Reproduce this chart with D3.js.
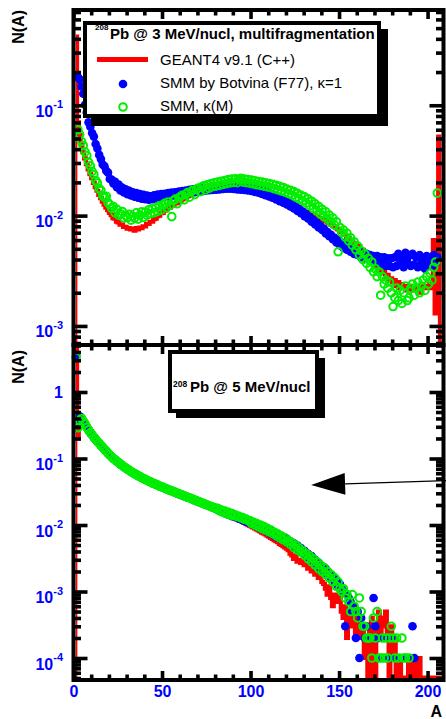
<!DOCTYPE html>
<html>
<head>
<meta charset="utf-8">
<script src="https://cdn.jsdelivr.net/npm/d3@7"></script>
<style>
  body { margin: 0; background: #fff; }
  svg { display: block; }
  text { font-family: "Liberation Sans", Arial, Helvetica, sans-serif; }
</style>
</head>
<body>
<svg id="chart" width="446" height="719"></svg>
<script>
// Fragment yields N(A), in units of 1e-4, for mass numbers A = 1 .. 207.
// null = no point; 0 = empty histogram bin.

// 208Pb @ 3 MeV/nucl
const geant3 = [
  4200, 700, 540, 440, 375, 330, 292, 262, 238, 218,
  198, 181, 168, 154, 144, 134, 126, 118, 112, 106,
  101, 95, 94, 88, 87, 83, 83, 79, 79, 76,
  77, 75, 76, 73, 77, 75, 78, 77, 80, 80,
  84, 84, 88, 88, 93, 94, 99, 100, 105, 106,
  111, 112, 117, 118, 123, 124, 129, 130, 135, 136,
  140, 143, 146, 149, 152, 155, 157, 160, 162, 164,
  166, 168, 170, 172, 173, 175, 176, 177, 178, 179,
  180, 180, 181, 181, 181, 181, 181, 180, 180, 179,
  178, 176, 177, 174, 175, 171, 172, 168, 169, 165,
  165, 161, 161, 157, 157, 153, 153, 149, 148, 145,
  144, 141, 140, 137, 136, 134, 131, 130, 127, 126,
  124, 122, 121, 119, 118, 116, 114, 113, 111, 109,
  108, 106, 104, 103, 101, 99, 98, 96, 94, 93,
  91, 89, 87, 85, 83, 81, 79, 77, 75, 72,
  71, 67, 67, 63, 63, 59, 60, 56, 56, 53,
  53, 49, 49, 45, 45, 41, 41, 38, 38, 35,
  36, 32, 33, 30, 31, 28, 29, 26, 27, 25,
  26, 23, 25, 22, 24, 22, 23, 21, 23, 21,
  22, 21, 22, 21, 23, 20, 23, 22, 23, 22,
  24, 22, 60, 13, 14, 520, 0
];
const botvina3 = [
  null, 1800, 1720, 1480, 1270, 1010, 860, 700, 640, 560,
  520, 445, 405, 355, 325, 290, 280, 255, 245, 215,
  212, 196, 203, 181, 191, 169, 180, 162, 173, 156,
  168, 152, 163, 148, 160, 145, 157, 142, 154, 141,
  152, 139, 150, 141, 153, 143, 155, 145, 157, 147,
  158, 148, 160, 150, 162, 152, 163, 154, 165, 156,
  167, 158, 169, 159, 171, 161, 173, 163, 174, 165,
  176, 166, 178, 168, 179, 170, 181, 171, 182, 172,
  183, 173, 184, 174, 185, 175, 186, 175, 186, 174,
  186, 173, 185, 172, 184, 171, 182, 169, 180, 167,
  177, 164, 174, 161, 171, 157, 167, 153, 163, 149,
  158, 145, 153, 140, 148, 135, 143, 131, 138, 126,
  132, 121, 127, 116, 121, 110, 115, 105, 109, 99,
  103, 94, 97, 88, 91, 83, 86, 78, 81, 74,
  76, 69, 71, 65, 67, 61, 63, 57, 60, 54,
  57, 51, 54, 49, 52, 47, 50, 45, 48, 44,
  47, 42, 46, 41, 45, 40, 44, 39, 43, 38,
  43, 37, 42, 36, 42, 35, 41, 35, 41, 34,
  42, 35, 45, 37, 41, 34, 46, 38, 43, 35,
  45, 36, 42, 34, 44, 37, 41, 33, 43, 36,
  41, 35, 44, 37, 42, null, null
];
const smmKappa3 = [
  null, 600, 545, 470, 432, 378, 350, 305, 282, 252,
  236, 208, 197, 176, 169, 151, 146, 150, 131, 126,
  117, 121, 106, 114, 101, 104, 109, 95, 100, 96,
  103, 91, 99, 95, 106, 93, 101, 108, 96, 107,
  101, 113, 104, 116, 106, 118, 109, 123, 112, 125,
  129, 118, 133, 124, 98, 137, 141, 128, 145, 149,
  153, 139, 157, 162, 147, 166, 170, 155, 173, 178,
  165, 182, 186, 171, 190, 177, 194, 183, 198, 185,
  201, 188, 205, 192, 208, 195, 212, 198, 214, 200,
  216, 199, 211, 218, 202, 214, 199, 212, 197, 210,
  194, 207, 191, 204, 188, 201, 185, 198, 182, 195,
  179, 192, 175, 188, 171, 184, 167, 180, 163, 174,
  158, 170, 153, 165, 147, 159, 142, 153, 136, 148,
  130, 142, 123, 135, 116, 128, 110, 121, 103, 114,
  98, 108, 93, 101, 87, 95, 82, 88, 47, 78,
  70, 74, 64, 69, 59, 63, 54, 58, 49, 53,
  44, 48, 40, 45, 37, 41, 34, 38, 31, 33,
  28, 31, 19, 28, 24, 26, 22, 25, 20, 15,
  18, 22, 17, 21, 16, 20, 23, 17, 18, 22,
  24, 19, 22, 25, 20, 23, 26, 21, 28, 24,
  30, 26, 34, 38, 160, null, null
];

// 208Pb @ 5 MeV/nucl
const geant5 = [
  80000, 2000, 3300, 3650, 3450, 3100, 2800, 2550, 2300, 2150,
  1980, 1850, 1710, 1600, 1490, 1400, 1300, 1230, 1140, 1080,
  1020, 960, 920, 870, 830, 790, 760, 720, 690, 665,
  635, 610, 590, 566, 548, 528, 512, 494, 480, 465,
  452, 438, 426, 414, 403, 392, 382, 372, 362, 353,
  344, 336, 327, 319, 312, 304, 297, 290, 283, 277,
  270, 264, 258, 252, 246, 240, 234, 229, 223, 218,
  212, 207, 202, 197, 192, 187, 182, 178, 173, 169,
  165, 160, 156, 152, 148, 144, 140, 137, 133, 129,
  125, 122, 118, 115, 111, 108, 105, 101, 98, 95,
  92, 89, 86, 83, 80, 77, 75, 72, 69, 67,
  64, 62, 59, 57, 55, 52, 50, 48, 46, 44,
  42, 37, 35, 31, 34, 28, 30, 27, 29, 25,
  26, 22, 24, 20, 21, 18, 19, 16, 17, 14,
  13, 11, 9, 12, 8, 6, 9, 8, 7, 9,
  5, 4, 6, 2, 3, 5, 4, 3, 2, 4,
  3, 2, 3, 1, 2, 0, 3, 4, 0, 0,
  3, 5, 2, 4, 3, 5, 2, 0, 3, 1,
  2, 0, 0, 1, 0, 0, 0, 0, 1, 1,
  0, 1, 1, 0, 1, 0, 0, 0, 0, 0,
  0, 0, 0, 0, 0, 0, 0
];
const botvina5 = [
  35000, 3300, 4300, 4100, 3700, 3250, 3000, 2650, 2480, 2250,
  2100, 1930, 1820, 1680, 1580, 1460, 1380, 1280, 1200, 1120,
  1070, 990, 965, 900, 875, 815, 795, 745, 725, 685,
  670, 630, 620, 585, 577, 545, 540, 510, 505, 480,
  474, 452, 448, 426, 424, 404, 402, 382, 381, 364,
  361, 346, 343, 329, 327, 314, 312, 298, 297, 284,
  283, 271, 270, 258, 257, 246, 245, 234, 233, 223,
  222, 212, 212, 203, 202, 193, 192, 184, 183, 175,
  170, 172, 159, 164, 150, 157, 143, 151, 136, 144,
  131, 138, 124, 131, 118, 125, 112, 119, 106, 113,
  101, 106, 95, 100, 89, 95, 84, 90, 79, 85,
  74, 80, 69, 75, 65, 70, 61, 66, 57, 62,
  53, 57, 49, 53, 45, 49, 41, 45, 38, 41,
  34, 37, 31, 34, 28, 30, 25, 27, 22, 24,
  20, 22, 18, 19, 16, 17, 14, 15, 12, 13,
  11, 10, 3, 9, 8, 7, 5, 6, 2, 5,
  1, 4, 3, 2, 3, 2, 0, 2, 8, 3,
  2, 2, 0, 1, 2, 1, 2, 1, 2, 0,
  1, 0, 0, 1, 0, 0, 0, 1, 0, 0,
  3, 1, 0, 0, 0, 0, 0, 0, 0, 0,
  0, 0, 0, 0, 0, 0, 0
];
const smmKappa5 = [
  33000, 2900, 3700, 4000, 3650, 3350, 2950, 2700, 2450, 2280,
  2080, 1960, 1800, 1700, 1560, 1480, 1360, 1290, 1190, 1130,
  1060, 1000, 960, 905, 870, 820, 790, 750, 720, 690,
  665, 635, 615, 590, 572, 550, 535, 515, 500, 485,
  470, 456, 444, 430, 420, 408, 398, 386, 378, 368,
  358, 350, 340, 333, 324, 318, 309, 302, 295, 288,
  281, 274, 268, 261, 255, 249, 243, 237, 231, 226,
  220, 215, 210, 205, 200, 195, 190, 186, 181, 177,
  178, 163, 168, 155, 162, 148, 155, 141, 149, 138,
  141, 134, 135, 128, 129, 122, 123, 116, 117, 106,
  111, 100, 105, 94, 100, 88, 95, 84, 89, 79,
  84, 74, 78, 69, 73, 64, 68, 60, 64, 56,
  58, 51, 54, 46, 50, 42, 45, 39, 41, 35,
  37, 31, 34, 28, 31, 25, 28, 22, 25, 20,
  23, 18, 20, 16, 18, 14, 16, 12, 14, 11,
  10, 11, 8, 9, 7, 5, 9, 6, 5, 4,
  8, 5, 3, 3, 2, 2, 2, 1, 4, 2,
  5, 1, 1, 2, 1, 2, 1, 2, 3, 2,
  1, 2, 1, 0, 2, 1, 1, 0, 1, 0,
  0, 0, 0, 0, 0, 0, 0, 0, 0, 0,
  0, 0, 0, 0, 0, 0, 0
];

const UNIT = 1e-4;
const massTicksMajor = [0, 50, 100, 150, 200];
const massTicksMinor = d3.range(0, 210, 10).filter(v => v % 50 !== 0);
const decades3 = [-3, -2, -1];
const decades5 = [-4, -3, -2, -1, 0];
const legendEntries = ["GEANT4 v9.1 (C++)", "SMM by Botvina (F77), \u03ba=1", "SMM, \u03ba(M)"];
const panelTitles = ["Pb @ 3 MeV/nucl, multifragmentation", "Pb @ 5 MeV/nucl"];
// annotation arrow, in (A, N) coordinates of the 5 MeV panel
const arrowFrom = [210.5, 0.0465];
const arrowTo = [134.2, 0.040];

const svg = d3.select("#chart");
const X0 = 73.5, X1 = 443.5;
const x = d3.scaleLinear().domain([0, 209]).range([X0, X1]);
const BLUE = "#0000ff", RED = "#ff0000", GREEN = "#00ee00";

const panels = [
  { top: 10, bottom: 345, dom: [6.72e-4, 0.73], decades: decades3,
    red: geant3, blue: botvina3, green: smmKappa3 },
  { top: 345, bottom: 680, dom: [4.67e-5, 5.09], decades: decades5,
    red: geant5, blue: botvina5, green: smmKappa5 }
];

function minorValues(dom) {
  const out = [];
  for (let d = Math.floor(Math.log10(dom[0])); d <= Math.ceil(Math.log10(dom[1])); d++) {
    for (let k = 2; k <= 9; k++) {
      const v = k * Math.pow(10, d);
      if (v >= dom[0] && v <= dom[1]) out.push(v);
    }
  }
  return out;
}

const defs = svg.append("defs");

panels.forEach((p, i) => {
  const y = d3.scaleLog().domain(p.dom).range([p.bottom, p.top]);
  p.y = y;
  const g = svg.append("g");

  // GEANT4 histogram (step line), clipped to the frame interior
  const clipId = "clip" + i;
  defs.append("clipPath").attr("id", clipId).append("rect")
    .attr("x", X0 + 2.2).attr("y", p.top + 2)
    .attr("width", X1 - X0 - 4.4).attr("height", p.bottom - p.top - 4);

  const bins = d3.range(0, 210).map(a => {
    const v = (a >= 1 && a <= p.red.length) ? p.red[a - 1] : 0;
    return [a, v];
  });
  const histLine = d3.line()
    .x(d => x(d[0]))
    .y(d => d[1] > 0 ? y(d[1] * UNIT) : p.bottom - 2.5)
    .curve(d3.curveStepAfter);
  g.append("path")
    .attr("clip-path", `url(#${clipId})`)
    .attr("d", histLine(bins))
    .attr("fill", "none").attr("stroke", RED)
    .attr("stroke-width", 4.2).attr("stroke-linejoin", "miter");

  const inRange = v => v != null && v > 0 && v * UNIT >= p.dom[0] && v * UNIT <= p.dom[1];

  g.append("g").selectAll("circle")
    .data(p.blue.map((v, k) => [k + 1, v]).filter(d => inRange(d[1])))
    .join("circle")
    .attr("cx", d => x(d[0] + 0.5)).attr("cy", d => y(d[1] * UNIT))
    .attr("r", 4.3).attr("fill", BLUE);

  g.append("g").selectAll("circle")
    .data(p.green.map((v, k) => [k + 1, v]).filter(d => inRange(d[1])))
    .join("circle")
    .attr("cx", d => x(d[0] + 0.5)).attr("cy", d => y(d[1] * UNIT))
    .attr("r", 3.8).attr("fill", "none")
    .attr("stroke", GREEN).attr("stroke-width", 2);

  // frame and ticks on all four sides
  const ax = svg.append("g");
  const style = sel => {
    sel.select(".domain").remove();
    sel.selectAll(".tick line").attr("stroke", "#000").attr("stroke-width", 3.6);
    sel.selectAll(".tick text").remove();
  };
  const majorV = p.decades.map(d => Math.pow(10, d));
  const minorV = minorValues(p.dom);

  ax.append("g").attr("transform", `translate(${X0},0)`)
    .call(d3.axisRight(y).tickValues(majorV).tickSize(14)).call(style);
  ax.append("g").attr("transform", `translate(${X0},0)`)
    .call(d3.axisRight(y).tickValues(minorV).tickSize(7.5)).call(style);
  ax.append("g").attr("transform", `translate(${X1},0)`)
    .call(d3.axisLeft(y).tickValues(majorV).tickSize(14)).call(style);
  ax.append("g").attr("transform", `translate(${X1},0)`)
    .call(d3.axisLeft(y).tickValues(minorV).tickSize(7.5)).call(style);

  ax.append("g").attr("transform", `translate(0,${p.top})`)
    .call(d3.axisBottom(x).tickValues(massTicksMajor).tickSize(9)).call(style);
  ax.append("g").attr("transform", `translate(0,${p.top})`)
    .call(d3.axisBottom(x).tickValues(massTicksMinor).tickSize(5.5)).call(style);
  ax.append("g").attr("transform", `translate(0,${p.bottom})`)
    .call(d3.axisTop(x).tickValues(massTicksMajor).tickSize(9)).call(style);
  ax.append("g").attr("transform", `translate(0,${p.bottom})`)
    .call(d3.axisTop(x).tickValues(massTicksMinor).tickSize(5.5)).call(style);

  ax.append("rect")
    .attr("x", X0).attr("y", p.top)
    .attr("width", X1 - X0).attr("height", p.bottom - p.top)
    .attr("fill", "none").attr("stroke", "#000").attr("stroke-width", 4);

  // y tick labels: 10^n in blue
  const lab = svg.append("g").attr("fill", BLUE)
    .attr("font-weight", "bold").attr("text-anchor", "end");
  p.decades.forEach(d => {
    const ty = y(Math.pow(10, d));
    if (d === 0) {
      lab.append("text").attr("x", 63).attr("y", ty + 6)
        .attr("font-size", 16).text("1");
    } else {
      const t = lab.append("text").attr("x", 63).attr("y", ty + 11.5)
        .attr("font-size", 16);
      t.append("tspan").text("10");
      t.append("tspan").attr("dy", -8.5).attr("font-size", 11).text(String(d));
    }
  });

  // y axis title
  svg.append("text")
    .attr("transform", `translate(24,${p.top + (i === 0 ? 0 : 5)}) rotate(-90)`)
    .attr("text-anchor", "end").attr("font-size", 16).attr("font-weight", "bold")
    .text("N(A)");
});

// x tick labels and title (lower panel only)
const p5 = panels[1];
svg.append("g").attr("transform", `translate(0,${p5.bottom})`)
  .call(d3.axisBottom(x).tickValues(massTicksMajor).tickSize(0).tickPadding(5.6)
        .tickFormat(d3.format("d")))
  .call(sel => {
    sel.select(".domain").remove();
    sel.selectAll(".tick text").attr("fill", BLUE).attr("font-size", 16)
      .attr("font-weight", "bold")
      .attr("font-family", '"Liberation Sans", Arial, sans-serif');
  });
svg.append("text").attr("x", 442).attr("y", 717).attr("text-anchor", "end")
  .attr("font-size", 16).attr("font-weight", "bold").text("A");

// legend, 3 MeV panel
const lg = svg.append("g");
lg.append("rect").attr("x", 91).attr("y", 29).attr("width", 297).attr("height", 97).attr("fill", "#000");
lg.append("rect").attr("x", 85).attr("y", 23).attr("width", 294).attr("height", 93)
  .attr("fill", "#fff").attr("stroke", "#000").attr("stroke-width", 4);
lg.append("text").attr("x", 95).attr("y", 29.7).attr("font-size", 8).attr("font-weight", "bold").text("208");
lg.append("text").attr("x", 110).attr("y", 39).attr("font-size", 15).attr("font-weight", "bold").text(panelTitles[0]);
lg.append("line").attr("x1", 97).attr("x2", 148).attr("y1", 59.5).attr("y2", 59.5)
  .attr("stroke", RED).attr("stroke-width", 5);
lg.append("circle").attr("cx", 123).attr("cy", 84).attr("r", 4.3).attr("fill", BLUE);
lg.append("circle").attr("cx", 123).attr("cy", 107).attr("r", 3.8).attr("fill", "none")
  .attr("stroke", GREEN).attr("stroke-width", 2);
legendEntries.forEach((t, k) => {
  lg.append("text").attr("x", 160).attr("y", 65 + 23 * k).attr("font-size", 15).text(t);
});

// title box, 5 MeV panel
const tb = svg.append("g");
tb.append("rect").attr("x", 176).attr("y", 358).attr("width", 149).attr("height", 60).attr("fill", "#000");
tb.append("rect").attr("x", 170).attr("y", 352).attr("width", 147).attr("height", 59)
  .attr("fill", "#fff").attr("stroke", "#000").attr("stroke-width", 4);
tb.append("text").attr("x", 173).attr("y", 387).attr("font-size", 8.5).attr("font-weight", "bold").text("208");
tb.append("text").attr("x", 190).attr("y", 392).attr("font-size", 15).attr("font-weight", "bold").text(panelTitles[1]);

// arrow annotation
const ya = p5.y;
const tip = [x(arrowTo[0]), ya(arrowTo[1])];
const tail = [x(arrowFrom[0]), ya(arrowFrom[1])];
const headLen = 34, headHalf = 11;
const ang = Math.atan2(tail[1] - tip[1], tail[0] - tip[0]);
const base = [tip[0] + headLen * Math.cos(ang), tip[1] + headLen * Math.sin(ang)];
svg.append("line").attr("x1", tail[0]).attr("y1", tail[1]).attr("x2", base[0]).attr("y2", base[1])
  .attr("stroke", "#000").attr("stroke-width", 1.4);
svg.append("path")
  .attr("d", d3.line()([
    tip,
    [base[0] - headHalf * Math.sin(ang), base[1] + headHalf * Math.cos(ang)],
    [base[0] + headHalf * Math.sin(ang), base[1] - headHalf * Math.cos(ang)]
  ]) + "Z")
  .attr("fill", "#000");
</script>
</body>
</html>
